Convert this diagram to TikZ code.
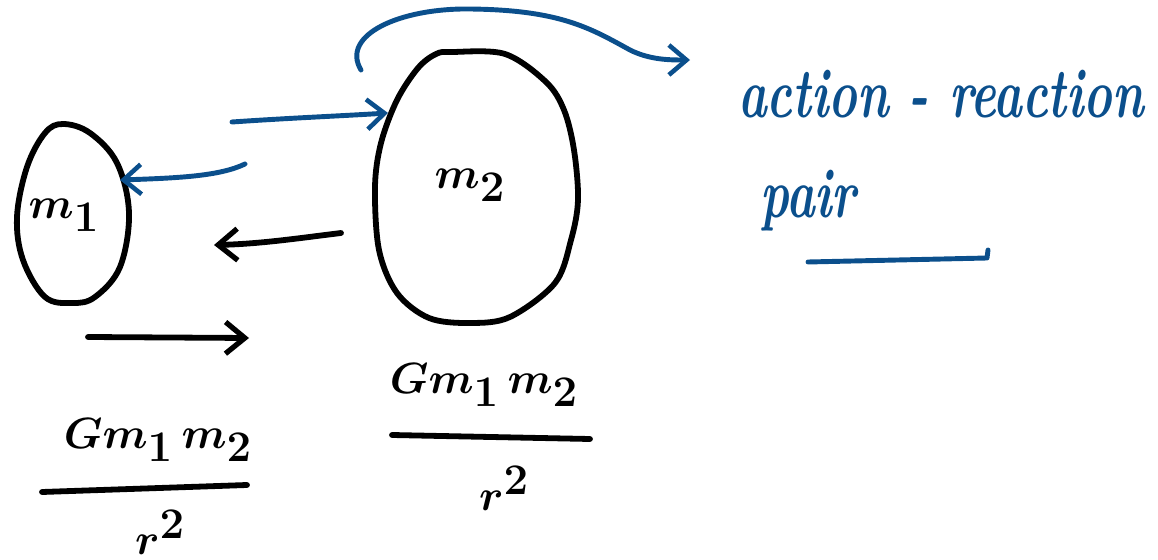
\documentclass[tikz,border=0pt]{standalone}
\usetikzlibrary{arrows.meta}
\definecolor{inkblue}{HTML}{0B4F8C}
\tikzset{
  blk/.style={line width=3.3pt, line cap=round, line join=round, black},
  blu/.style={line width=2.8pt, line cap=round, line join=round, inkblue},
  tipk/.style={-{Straight Barb[length=11pt,width=18pt,line width=3pt]}},
  tipb/.style={-{Straight Barb[length=10pt,width=17pt,line width=2.6pt]}},
  lbl/.style={inner sep=0pt, font=\fontsize{34}{38}\selectfont\boldmath},
  frac/.style={inner sep=0pt, font=\fontsize{42}{46}\selectfont\boldmath},
  btxt/.style={inner sep=0pt, text=inkblue, font=\fontsize{40}{44}\selectfont\bfseries\itshape, xscale=0.69, transform shape}
}
\begin{document}
\begin{tikzpicture}[x=0.02cm,y=-0.02cm]
\useasboundingbox (0,0) rectangle (1158,560);
% m1 body
\draw[blk] plot[smooth cycle, tension=0.6] coordinates {(63,124) (90,133) (117,163) (129,213) (120,267) (95,297) (72,303) (45,297) (23,260) (17,217) (27,167) (45,133)};
% m2 body
\draw[blk] plot[smooth cycle, tension=0.55] coordinates {(452,52) (505,54) (546,82) (564,110) (574,150) (578,200) (571,240) (555,283) (510,317) (470,323) (429,318) (397,293) (379,250) (375,187) (381,143) (397,100) (418,68) (436,54)};
\node[lbl] (m1) at (64,215) {$m_1$};
\node[lbl] (m2) at (470,185) {$m_2$};
% blue arrows
\coordinate (b1s) at (232,122);
\coordinate (b1e) at (388,113);
\draw[blu,tipb] (b1s) .. controls (290,118) and (340,116) .. (b1e);
\coordinate (b2s) at (245,164);
\coordinate (b2e) at (120,180);
\draw[blu,tipb] (b2s) .. controls (220,176) and (180,178) .. (b2e);
% black arrows
\coordinate (k1s) at (341,233);
\coordinate (k1e) at (214,245);
\draw[blk,tipk] (k1s) .. controls (300,238) and (260,244) .. (k1e);
\coordinate (k2s) at (88,337);
\coordinate (k2e) at (249,338);
\draw[blk,tipk] (k2s) -- (k2e);
% curved blue arrow
\coordinate (cs) at (361,70);
\coordinate (ce) at (690,60);
\draw[blu,tipb] (cs) .. controls (340,35) and (400,8) .. (470,9) .. controls (560,10) and (590,28) .. (630,50) .. controls (650,60) and (670,60) .. (ce);
% fractions
\node[frac] (f1n) at (158,440) {$Gm_1\,m_2$};
\coordinate (f1a) at (42,492);
\coordinate (f1b) at (247,485);
\draw[blk] (f1a) -- (f1b);
\node[frac] (f1d) at (160,532) {$r^2$};
\node[frac] (f2n) at (484,385) {$Gm_1\,m_2$};
\coordinate (f2a) at (392,435);
\coordinate (f2b) at (590,439);
\draw[blk] (f2a) -- (f2b);
\node[frac] (f2d) at (504,488) {$r^2$};
% blue text
\node[btxt,anchor=base west] (t1) at (738,118) {action - reaction};
\node[btxt,anchor=base west] (t2) at (760,218) {pair};
\coordinate (u1) at (808,262);
\coordinate (u2) at (987,258);
\draw[blu] (u1) -- (u2) -- (988,250);
\end{tikzpicture}
\end{document}
